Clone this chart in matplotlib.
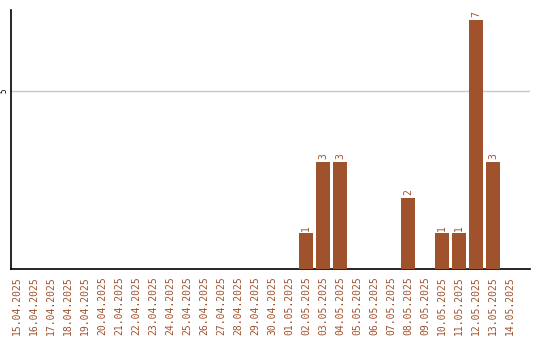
import matplotlib
matplotlib.use("Agg")
import matplotlib.pyplot as plt
import pandas as pd

dates = pd.date_range("2025-04-15", "2025-05-14", freq="D")
date_labels = [d.strftime("%d.%m.%Y") for d in dates]
counts = [0, 0, 0, 0, 0, 0, 0, 0, 0, 0, 0, 0, 0, 0, 0, 0, 0,
          1, 3, 3, 0, 0, 0, 2, 0, 1, 1, 7, 3, 0]

bar_color = "#a0522d"

fig = plt.figure(figsize=(5.4, 3.4), dpi=100)
ax = fig.add_axes([11 / 540, 1 - 269 / 340, 519 / 540, 259 / 340])

x = list(range(len(counts)))
bars = ax.bar(x, counts, width=0.82, color=bar_color, zorder=3)
for xi, v in zip(x, counts):
    if v > 0:
        ax.text(xi, v + 0.08, str(v), rotation=90, ha="center", va="bottom",
                fontsize=7, color=bar_color, family="DejaVu Sans Mono")

ax.set_xlim(-0.353, 30.18)
ax.set_ylim(0, 7.28)
ax.set_yticks([5])
ax.set_yticklabels(["5"], rotation=90, va="center", fontsize=5.5,
                   family="DejaVu Sans Mono")
ax.yaxis.grid(True, color="#c8c8c8", linewidth=1, zorder=0)
ax.tick_params(axis="y", length=0, pad=2)

ax.set_xticks(x)
ax.set_xticklabels(date_labels, rotation=90, fontsize=7, color=bar_color,
                   family="DejaVu Sans Mono", va="top", ha="center")
ax.tick_params(axis="x", length=0, pad=5.5)

for side in ("top", "right"):
    ax.spines[side].set_visible(False)
for side in ("left", "bottom"):
    ax.spines[side].set_color("black")
    ax.spines[side].set_linewidth(1.2)

fig.savefig("out.png", dpi=100)
